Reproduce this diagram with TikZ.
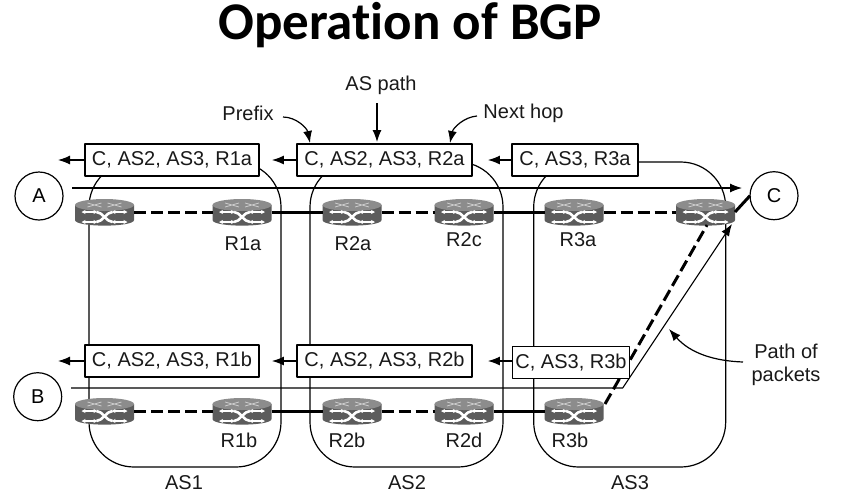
\documentclass[tikz,border=0pt]{standalone}
\usepackage{fontspec}
\setmainfont{Liberation Sans}
\newfontfamily\titlefont[Ligatures=NoCommon]{Carlito}
\usetikzlibrary{arrows,arrows.meta}
\tikzset{
  txt/.style={inner sep=0pt,font=\fontsize{20}{23}\selectfont,text=black!90},
  pathbox/.style={draw,line width=1.8pt,fill=white,inner sep=0pt,minimum height=32pt,font=\fontsize{20}{23}\selectfont,text=black!90},
  asarea/.style={draw,line width=1.2pt,rounded corners=45pt,inner sep=0pt,outer sep=0pt,minimum height=305pt},
  host/.style={draw,circle,line width=1.2pt,fill=white,inner sep=0pt,outer sep=0pt,minimum size=48pt,font=\fontsize{20}{23}\selectfont},
  ebgp/.style={line width=3pt,dash pattern=on 12pt off 5pt},
  ibgp/.style={line width=3pt},
  pkt/.style={line width=1.1pt,->},
  router/.style={rectangle,inner sep=0pt,outer sep=0pt,minimum width=59pt,minimum height=26pt,path picture={
    \begin{scope}[shift={(path picture bounding box.center)}]
    \fill [black!64] (-29.5,-7) -- (-29.5,8) .. controls (-29.5,15.5) and (29.5,15.5) .. (29.5,8) -- (29.5,-7) -- cycle;
    \fill [black!45] (0,-7) ellipse (29.5 and 6);
    \draw [white!80!black,line width=.8pt] (-17,-9) -- (-3,-5) (3,-9) -- (17,-5) (-17,-5) -- (-3,-9) (3,-5) -- (17,-9);
    \draw [white,line width=1.3pt,{Stealth[length=4pt,width=4pt]}-{Stealth[length=4pt,width=4pt]}] (-23,0) -- (-7,0);
    \draw [white,line width=1.3pt,{Stealth[length=4pt,width=4pt]}-{Stealth[length=4pt,width=4pt]}] (7,0) -- (23,0);
    \draw [white,line width=1.3pt,{Stealth[length=4pt,width=4pt]}-{Stealth[length=4pt,width=4pt]}] (-23,10) -- (-7,10);
    \draw [white,line width=1.3pt,{Stealth[length=4pt,width=4pt]}-{Stealth[length=4pt,width=4pt]}] (7,10) -- (23,10);
    \draw [white,line width=2.6pt] (-8,0) .. controls (-2,0) and (2,10) .. (8,10);
    \draw [white,line width=2.6pt] (-8,10) .. controls (-2,10) and (2,0) .. (8,0);
    \end{scope}}},
}
\begin{document}
\begin{tikzpicture}[>={Latex[length=12pt,width=9pt]},line join=bevel,x=1pt,y=-1pt]
\useasboundingbox (0,0) rectangle (843,499);
%%
\node (node_title) at (410,25.5) [inner sep=0pt,font=\titlefont\bfseries\fontsize{53}{57}\selectfont] {Operation of BGP};
%% autonomous systems
\node (as_1) at (185,314.5) [asarea,minimum width=192pt] {};
\node (as_2) at (406.5,314.5) [asarea,minimum width=193pt] {};
\node (as_3) at (629.7,314.5) [asarea,minimum width=192pt] {};
\node (label_as1) at (184,483) [txt] {AS1};
\node (label_as2) at (407,483) [txt] {AS2};
\node (label_as3) at (630,483) [txt] {AS3};
%% routers, upper row
\node (node_r1x) at (104.5,212) [router] {};
\node (node_r1a) at (242,212) [router] {};
\node (node_r2a) at (352,212) [router] {};
\node (node_r2c) at (464,212) [router] {};
\node (node_r3a) at (574,212) [router] {};
\node (node_r3x) at (705.5,212) [router] {};
%% routers, lower row
\node (node_r1y) at (104.5,411) [router] {};
\node (node_r1b) at (242,411) [router] {};
\node (node_r2b) at (352,411) [router] {};
\node (node_r2d) at (464,411) [router] {};
\node (node_r3b) at (574,411) [router] {};
\node (label_r1a) at (243,244) [txt] {R1a};
\node (label_r2a) at (353,244) [txt] {R2a};
\node (label_r2c) at (464,240) [txt] {R2c};
\node (label_r3a) at (578,240) [txt] {R3a};
\node (label_r1b) at (239,440) [txt] {R1b};
\node (label_r2b) at (347,440) [txt] {R2b};
\node (label_r2d) at (464,440) [txt] {R2d};
\node (label_r3b) at (570,440) [txt] {R3b};
%% hosts
\node (node_a) at (39,196) [host] {A};
\node (node_b) at (37.7,396.7) [host] {B};
\node (node_c) at (774,195.7) [host] {C};
%% links
\draw [ebgp,yshift=2pt] (node_r1x.east) -- (node_r1a.west);
\draw [ibgp,yshift=2pt] (node_r1a.east) -- (node_r2a.west);
\draw [ebgp,yshift=2pt] (node_r2a.east) -- (node_r2c.west);
\draw [ibgp,yshift=2pt] (node_r2c.east) -- (node_r3a.west);
\draw [ebgp,yshift=2pt] (node_r3a.east) -- (node_r3x.west);
\draw [ebgp,yshift=-2pt] (node_r1y.east) -- (node_r1b.west);
\draw [ibgp,yshift=-2pt] (node_r1b.east) -- (node_r2b.west);
\draw [ebgp,yshift=-2pt] (node_r2b.east) -- (node_r2d.west);
\draw [ibgp,yshift=-2pt] (node_r2d.east) -- (node_r3b.west);
\draw [ibgp] (node_r3x.east) -- (node_c.west);
\coordinate (dash_from) at (605,404);
\coordinate (dash_to) at (707,225);
\draw [ebgp] (dash_from) -- (dash_to);
%% packets
\coordinate (pkt_a0) at (72,188);
\coordinate (pkt_a1) at (742,188);
\draw [pkt] (pkt_a0) -- (pkt_a1);
\coordinate (pkt_b0) at (71,388);
\coordinate (pkt_b1) at (622.7,388);
\coordinate (pkt_b2) at (732,224);
\draw [pkt] (pkt_b0) -- (pkt_b1) -- (pkt_b2);
%% advertised paths
\node (box_r1a) at (172,160) [pathbox,minimum width=174pt] {C, AS2, AS3, R1a};
\node (box_r2a) at (384.5,160) [pathbox,minimum width=175pt] {C, AS2, AS3, R2a};
\node (box_r3a) at (575,160) [pathbox,minimum width=126pt] {C, AS3, R3a};
\node (box_r1b) at (172,361) [pathbox,minimum width=174pt] {C, AS2, AS3, R1b};
\node (box_r2b) at (384.5,361) [pathbox,minimum width=175pt] {C, AS2, AS3, R2b};
\node (box_r3b) at (571,362.5) [pathbox,minimum width=117pt] {C, AS3, R3b};
\coordinate (tip_a) at (58,160);
\coordinate (tip_b) at (58,361);
\draw [line width=1.2pt,->] (box_r1a.west) -- (tip_a);
\draw [line width=1.2pt,->,shorten >=12pt] (box_r2a.west) -- (box_r1a.east);
\draw [line width=1.2pt,->,shorten >=15pt] (box_r3a.west) -- (box_r2a.east);
\draw [line width=1.2pt,->] (box_r1b.west) -- (tip_b);
\draw [line width=1.2pt,->,shorten >=12pt] (box_r2b.west) -- (box_r1b.east);
\draw [line width=1.2pt,->,shorten >=15pt] (box_r3b.west |- box_r2b.east) -- (box_r2b.east);
%% callouts
\node (label_aspath) at (381,85) [txt] {AS path};
\node (label_prefix) at (248,113) [txt] {Prefix};
\node (label_nexthop) at (523.5,113) [txt] {Next hop};
\node (label_path) at (786,365) [txt,align=center] {Path of\\packets};
\coordinate (tip_aspath) at (377,142);
\coordinate (tip_prefix) at (310,143);
\coordinate (tip_nexthop) at (450,143);
\coordinate (tip_path) at (669,329);
\coordinate (from_aspath) at (377,103);
\coordinate (from_prefix) at (283,117);
\coordinate (from_nexthop) at (477,116);
\coordinate (from_path) at (743,362);
\draw [line width=1.2pt,->] (from_aspath) -- (tip_aspath);
\draw [line width=1.2pt,->] (from_prefix) .. controls (296,117) and (307,128) .. (tip_prefix);
\draw [line width=1.2pt,->] (from_nexthop) .. controls (464,117) and (453,128) .. (tip_nexthop);
\draw [line width=1.2pt,->] (from_path) .. controls (714,361) and (690,353) .. (tip_path);
%
\end{tikzpicture}
\end{document}
